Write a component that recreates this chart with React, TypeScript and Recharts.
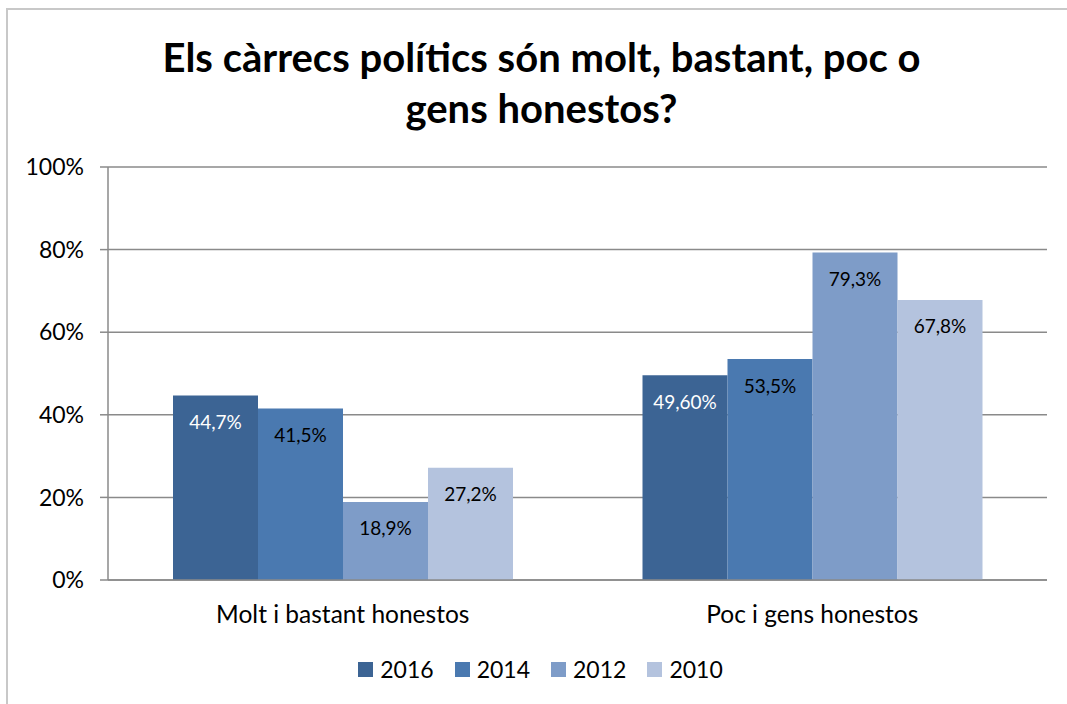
import React from "react";
import { BarChart, Bar, XAxis, YAxis, CartesianGrid, Legend, LabelList } from "recharts";

const categories = ["Molt i bastant honestos", "Poc i gens honestos"];
const seriesNames = ["2016", "2014", "2012", "2010"];
const values2016 = [44.7, 49.6];
const values2014 = [41.5, 53.5];
const values2012 = [18.9, 79.3];
const values2010 = [27.2, 67.8];
const labels2016 = ["44,7%", "49,60%"];
const labels2014 = ["41,5%", "53,5%"];
const labels2012 = ["18,9%", "79,3%"];
const labels2010 = ["27,2%", "67,8%"];
const yTicks = [0, 20, 40, 60, 80, 100];
const colors = ["#3C6494", "#4A79B0", "#7E9CC8", "#B4C3DE"];
const labelColors = ["#ffffff", "#000000", "#000000", "#000000"];

const data = categories.map((c, i) => ({
  name: c,
  s2016: values2016[i],
  s2014: values2014[i],
  s2012: values2012[i],
  s2010: values2010[i],
  l2016: labels2016[i],
  l2014: labels2014[i],
  l2012: labels2012[i],
  l2010: labels2010[i],
}));

const keys = ["2016", "2014", "2012", "2010"];
const FONT = "Lato, 'Open Sans', sans-serif";

const LegendContent = () => (
  <div style={{ display: "flex", justifyContent: "center", alignItems: "center", height: 30, paddingLeft: 26 }}>
    {seriesNames.map((n, i) => (
      <div key={n} style={{ display: "flex", alignItems: "center", marginRight: i < seriesNames.length - 1 ? 21 : 0 }}>
        <span style={{ display: "inline-block", width: 15, height: 15, background: colors[i], marginRight: 7 }} />
        <span style={{ color: "#000", fontSize: 23, fontFamily: FONT, lineHeight: "30px" }}>{n}</span>
      </div>
    ))}
  </div>
);

export default function App() {
  return (
    <div style={{ position: "absolute", left: 0, top: 0, width: 1067, height: 704, overflow: "hidden", background: "#fff", fontFamily: FONT }}>
      <div style={{ position: "absolute", left: 6, top: 8, width: 1100, height: 800, border: "2px solid #c8c8c8" }} />
      <div style={{ position: "absolute", left: 0, top: 32, width: 1083, textAlign: "center", fontSize: 40, fontWeight: 700, lineHeight: "51px", color: "#000" }}>
        Els càrrecs polítics són molt, bastant, poc o
        <br />
        gens honestos?
      </div>
      <div style={{ position: "absolute", left: 0, top: 0 }}>
        <BarChart
          width={1067}
          height={704}
          data={data}
          margin={{ top: 167, right: 20, left: 8, bottom: 20 }}
          barCategoryGap={65}
          barGap={0}
        >
          <CartesianGrid vertical={false} stroke="#8a8a8a" strokeWidth={1.5} />
          <XAxis
            dataKey="name"
            height={74}
            tickLine={false}
            axisLine={{ stroke: "#8a8a8a", strokeWidth: 1.5 }}
            tick={{ fill: "#000", fontSize: 24.5, fontFamily: FONT }}
            tickMargin={20}
          />
          <YAxis
            width={100}
            domain={[0, 100]}
            ticks={yTicks}
            tickFormatter={(v: number) => `${v}%`}
            axisLine={{ stroke: "#8a8a8a", strokeWidth: 1.5 }}
            tickLine={{ stroke: "#8a8a8a", strokeWidth: 1.5 }}
            tickSize={8}
            tickMargin={16}
            tick={{ fill: "#000", fontSize: 23, fontFamily: FONT }}
          />
          <Legend verticalAlign="bottom" align="center" height={30} content={<LegendContent />} />
          {keys.map((k, i) => (
            <Bar key={k} dataKey={`s${k}`} name={seriesNames[i]} fill={colors[i]} isAnimationActive={false}>
              <LabelList dataKey={`l${k}`} position="insideTop" offset={20} fill={labelColors[i]} fontSize={19} fontFamily={FONT} />
            </Bar>
          ))}
        </BarChart>
      </div>
    </div>
  );
}
